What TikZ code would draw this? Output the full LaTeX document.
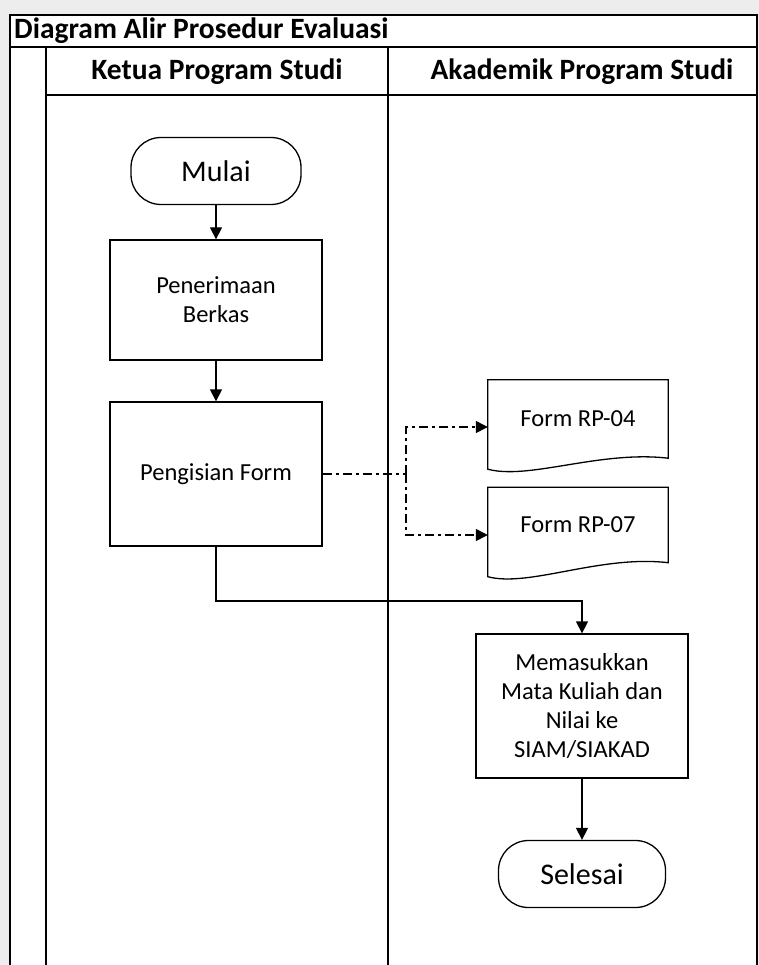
\documentclass[tikz,border=0pt]{standalone}
\usepackage{fontspec}
\setmainfont{Carlito}
\usetikzlibrary{arrows.meta}

\tikzset{
  lane/.style={line width=1.4pt},
  heading/.style={font=\bfseries\fontsize{29.5}{33}\selectfont, inner sep=0pt},
  stepbox/.style={draw, line width=1.3pt, minimum width=212pt, align=center,
    font=\fontsize{24.5}{29}\selectfont},
  terminal/.style={draw, line width=1.3pt, rounded corners=30pt, minimum width=170pt,
    minimum height=67pt, font=\fontsize{30}{34}\selectfont},
  docbox/.style={minimum width=180pt, font=\fontsize{24.5}{29}\selectfont},
  flow/.style={line width=1.3pt, -{Triangle[length=12pt,width=12pt]}},
  dashflow/.style={flow, dash pattern=on 9pt off 4pt on 3pt off 4pt},
}

% outline of a document symbol round a node: name, drop of the left corner
\newcommand\docoutline[2]{%
  \draw[line width=1.3pt] ([yshift=-#2pt]#1.south west) -- (#1.north west) -- (#1.north east)
    -- (#1.south east) .. controls +(-68,-8) and +(41,11) .. cycle;
}

\begin{document}
\begin{tikzpicture}[x=1pt,y=-1pt]
  \useasboundingbox (0,0) rectangle (759,965);
  \fill[gray!14] (0,0) rectangle (759,965);
  \fill[white] (10,15) rectangle (757,965);

  % swimlane frame
  \draw[lane] (10,965) -- (10,15) -- (757,15) -- (757,965);
  \draw[lane] (10,47) -- (757,47);
  \draw[lane] (46,95) -- (757,95);
  \draw[lane] (46,47) -- (46,965);
  \draw[lane] (388,47) -- (388,965);

  \node[heading, anchor=west] (title) at (14,31) {Diagram Alir Prosedur Evaluasi};
  \node[heading] (kaprodi) at (217,72) {Ketua Program Studi};
  \node[heading] (akademik) at (582,72) {Akademik Program Studi};

  % steps
  \node[terminal] (mulai) at (216,171) {Mulai};
  \node[stepbox, minimum height=120pt] (terima) at (216,300) {Penerimaan\\Berkas};
  \node[stepbox, minimum height=144pt] (isi) at (216,474) {Pengisian Form};
  \node[docbox, minimum height=78pt] (rp04) at (578,419) {Form RP-04};
  \node[docbox, minimum height=75pt] (rp07) at (578,525) {Form RP-07};
  \node[stepbox, minimum height=144pt] (masuk) at (582,706)
    {Memasukkan\\Mata Kuliah dan\\Nilai ke\\SIAM/SIAKAD};
  \node[terminal, minimum width=167pt] (selesai) at (582,874) {Selesai};
  \docoutline{rp04}{11}
  \docoutline{rp07}{14}

  \coordinate (split) at (406,474);
  \coordinate (turn) at (216,601);

  \draw[flow] (mulai) -- (terima);
  \draw[flow] (terima) -- (isi);
  \draw[dashflow, -] (isi.east) -- (split);
  \draw[dashflow] (split) |- ([yshift=-8pt]rp04.west);
  \draw[dashflow] (split) |- ([yshift=-10pt]rp07.west);
  \draw[flow] (isi.south) -- (turn) -| (masuk.north);
  \draw[flow] (masuk) -- (selesai);
\end{tikzpicture}
\end{document}
